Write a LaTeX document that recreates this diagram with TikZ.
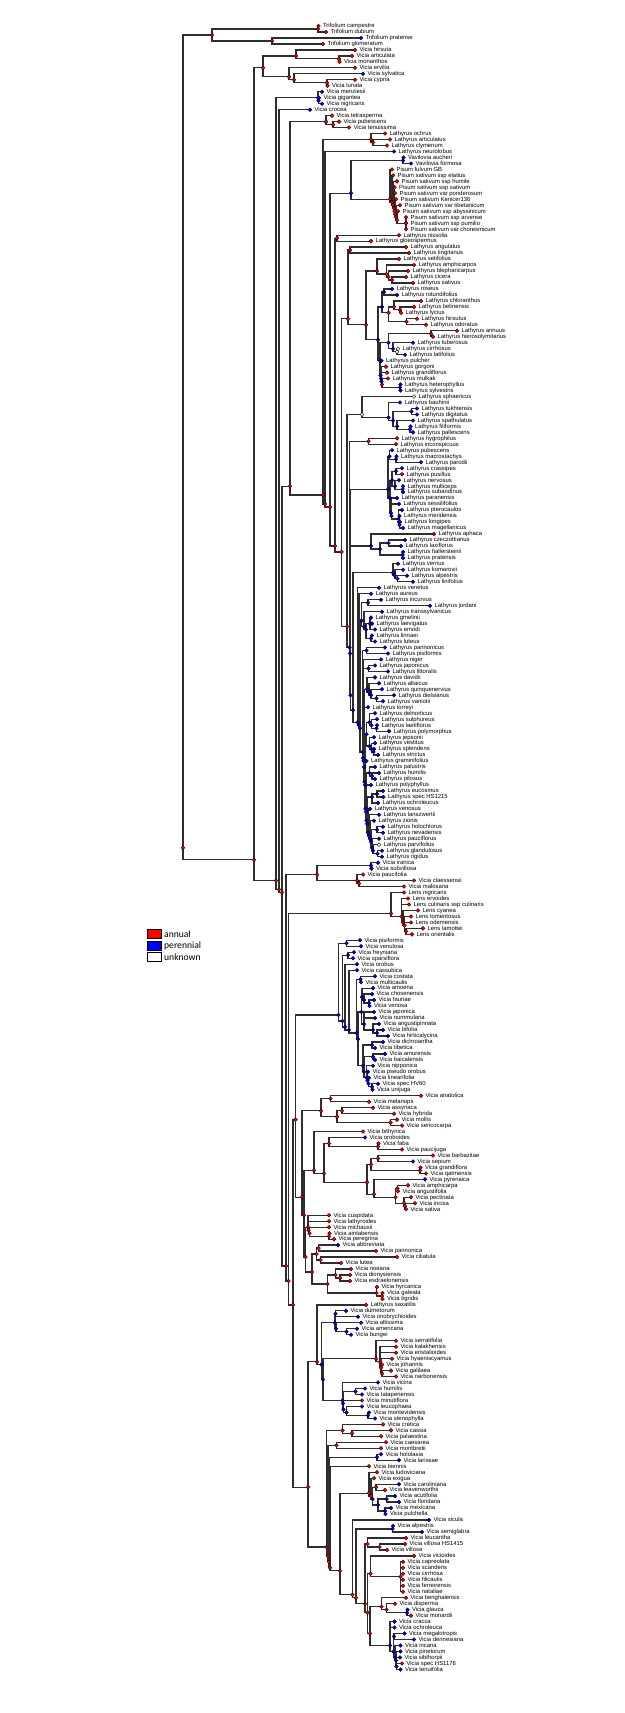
\documentclass[tikz,border=0pt]{standalone}
\usepackage{fontspec}
\setmainfont{Liberation Sans}
\newfontfamily\legfont{Carlito}
\definecolor{cr}{RGB}{255,0,0}
\definecolor{cb}{RGB}{0,0,255}
\definecolor{cw}{RGB}{255,255,255}
\tikzset{
  br/.style={line width=1.25pt,draw=black!82},
  tipdot/.style={circle,draw=black,line width=0.35pt,minimum size=3.8pt,inner sep=0pt},
  lab/.style={anchor=west,inner sep=0pt,font=\fontsize{5.9}{7}\selectfont,text height=4.2pt,text depth=0.5pt},
  legbox/.style={draw=black,line width=0.8pt,minimum width=14pt,minimum height=9pt,inner sep=0pt},
  legtxt/.style={anchor=west,inner sep=0pt,font=\legfont\fontsize{9.6}{11}\selectfont}
}
% pass 1: coordinates and branches
\newcommand\ndA[6]{%
  \coordinate (#1) at (#3,{26+((#4+#5)/2-1)*5.976});
  \draw[br] (#2) |- (#1);}
\newcommand\tpA[5]{%
  \coordinate (t#3) at (#2,{26+(#3-1)*5.976});
  \draw[br] (#1) |- (t#3);}
% pass 2: node dots and tip labels
\newcommand\ndB[6]{\node[tipdot,fill=#6] (n#1) at (#1) {};}
\newcommand\tpB[5]{%
  \node[tipdot,fill=#4] (d#3) at (t#3) {};
  \node[lab] (l#3) at ([xshift=2.3pt]d#3.east) {#5};}
\newcommand\treedata{%
\nd{T0}{R0}{212}{1}{4}{cr}
\nd{T1}{T0}{318}{1}{2}{cr}
\tp{T1}{318.5}{1}{cr}{Trifolium campestre}
\tp{T1}{326}{2}{cr}{Trifolium dubium}
\nd{T2}{T0}{272}{3}{4}{cr}
\tp{T2}{361}{3}{cb}{Trifolium pratense}
\tp{T2}{323}{4}{cr}{Trifolium glomeratum}
\nd{A}{R0}{254}{5}{276}{cr}
\nd{V1}{A}{263}{5}{11}{cr}
\nd{V2}{V1}{296}{5}{7}{cr}
\tp{V2}{355}{5}{cr}{Vicia hirsuta}
\nd{V2a}{V2}{339}{6}{7}{cr}
\tp{V2a}{352}{6}{cr}{Vicia articulata}
\tp{V2a}{339.5}{7}{cr}{Vicia monanthos}
\nd{V3}{V1}{289}{8}{11}{cr}
\tp{V3}{355}{8}{cr}{Vicia ervilia}
\nd{V3a}{V3}{294}{9}{11}{cr}
\tp{V3a}{363}{9}{cb}{Vicia sylvatica}
\nd{V3b}{V3a}{327}{10}{11}{cr}
\tp{V3b}{355}{10}{cr}{Vicia cypria}
\tp{V3b}{327.5}{11}{cr}{Vicia lunata}
\nd{B}{A}{276}{12}{276}{cr}
\nd{C1}{B}{318}{12}{14}{cb}
\tp{C1}{322}{12}{cb}{Vicia menziesii}
\nd{C1a}{C1}{318.5}{13}{14}{cb}
\tp{C1a}{319}{13}{cb}{Vicia gigantea}
\tp{C1a}{322}{14}{cb}{Vicia nigricans}
\nd{B2}{B}{279}{15}{276}{cr}
\tp{B2}{310}{15}{cb}{Vicia crocea}
\nd{B3}{B2}{282}{16}{276}{cr}
\nd{E}{B3}{290}{16}{140}{cr}
\nd{D}{E}{326}{16}{18}{cr}
\tp{D}{332}{16}{cr}{Vicia tetrasperma}
\nd{Da}{D}{333}{17}{18}{cr}
\tp{Da}{339}{17}{cr}{Vicia pubescens}
\tp{Da}{349}{18}{cr}{Vicia tenuissima}
\nd{F}{E}{323}{19}{140}{cr}
\nd{Fa}{F}{371}{19}{21}{cr}
\tp{Fa}{385}{19}{cr}{Lathyrus ochrus}
\nd{Fb}{Fa}{373}{20}{21}{cr}
\tp{Fb}{390}{20}{cr}{Lathyrus articulatus}
\tp{Fb}{387}{21}{cr}{Lathyrus clymenum}
\nd{F2}{F}{325}{22}{140}{cr}
\tp{F2}{394}{22}{cb}{Lathyrus neurolobus}
\nd{F3}{F2}{330}{23}{140}{cr}
\nd{PV}{F3}{351}{23}{35}{cb}
\nd{Vv}{PV}{403}{23}{24}{cb}
\tp{Vv}{403.5}{23}{cb}{Vavilovia aucheri}
\tp{Vv}{411}{24}{cb}{Vavilovia formosa}
\nd{Pi}{PV}{390}{25}{35}{cr}
\tp{Pi}{392}{25}{cr}{Pisum fulvum GB}
\nd{Pi2}{Pi}{392}{26}{35}{cr}
\tp{Pi2}{393}{26}{cr}{Pisum sativum ssp elatius}
\nd{Pi3}{Pi2}{393}{27}{35}{cr}
\tp{Pi3}{397}{27}{cr}{Pisum sativum ssp humile}
\nd{Pi4}{Pi3}{394}{28}{35}{cr}
\tp{Pi4}{394.5}{28}{cr}{Pisum sativum ssp sativum}
\nd{Pi5}{Pi4}{394.5}{29}{35}{cr}
\tp{Pi5}{395}{29}{cr}{Pisum sativum var ponderosum}
\nd{Pi6}{Pi5}{395}{30}{35}{cr}
\tp{Pi6}{396}{30}{cr}{Pisum sativum Kenicer136}
\nd{Pi7}{Pi6}{396}{31}{35}{cr}
\tp{Pi7}{400}{31}{cr}{Pisum sativum var tibetanicum}
\nd{Pi8}{Pi7}{397}{32}{35}{cr}
\tp{Pi8}{398}{32}{cr}{Pisum sativum ssp abyssinicum}
\nd{Pi9}{Pi8}{406}{33}{35}{cr}
\tp{Pi9}{406}{33}{cr}{Pisum sativum ssp arvense}
\tp{Pi9}{406}{34}{cr}{Pisum sativum ssp pumilio}
\tp{Pi9}{406}{35}{cr}{Pisum sativum var choresmicum}
\nd{F4}{F3}{335}{36}{140}{cr}
\nd{Ni}{F4}{337}{36}{37}{cr}
\tp{Ni}{399}{36}{cr}{Lathyrus nissolia}
\tp{Ni}{371}{37}{cr}{Lathyrus gloeospermus}
\nd{F5}{F4}{341.5}{38}{140}{cr}
\nd{G1}{F5}{348}{38}{62}{cr}
\nd{Ga}{G1}{350}{38}{39}{cr}
\tp{Ga}{406}{38}{cr}{Lathyrus angulatus}
\tp{Ga}{409}{39}{cr}{Lathyrus tingitanus}
\nd{G2}{G1}{366}{40}{62}{cr}
\nd{G3}{G2}{377}{40}{44}{cr}
\tp{G3}{399}{40}{cr}{Lathyrus setifolius}
\nd{G3a}{G3}{386.5}{41}{44}{cr}
\tp{G3a}{414}{41}{cr}{Lathyrus amphicarpos}
\nd{G3b}{G3a}{388.5}{42}{44}{cr}
\tp{G3b}{408}{42}{cr}{Lathyrus blepharicarpus}
\nd{G3c}{G3b}{392}{43}{44}{cr}
\tp{G3c}{406}{43}{cr}{Lathyrus cicera}
\tp{G3c}{413}{44}{cr}{Lathyrus sativus}
\nd{G4}{G2}{378}{45}{62}{cb}
\nd{G5}{G4}{382}{45}{51}{cb}
\nd{G5a}{G5}{384}{45}{46}{cb}
\tp{G5a}{392}{45}{cb}{Lathyrus roseus}
\tp{G5a}{397}{46}{cb}{Lathyrus rotundifolius}
\nd{G5b}{G5}{388.5}{47}{51}{cr}
\nd{G5c}{G5b}{394}{47}{49}{cr}
\tp{G5c}{421}{47}{cr}{Lathyrus chloranthus}
\nd{G5d}{G5c}{400}{48}{49}{cr}
\tp{G5d}{414}{48}{cr}{Lathyrus belinensis}
\tp{G5d}{401}{49}{cr}{Lathyrus lycius}
\nd{G5e}{G5b}{406.5}{50}{51}{cr}
\tp{G5e}{417}{50}{cr}{Lathyrus hirsutus}
\tp{G5e}{426}{51}{cr}{Lathyrus odoratus}
\nd{G6}{G4}{380}{52}{62}{cb}
\nd{G7}{G6}{388.5}{52}{56}{cb}
\nd{G6a}{G7}{431}{52}{53}{cr}
\tp{G6a}{457}{52}{cr}{Lathyrus annuus}
\tp{G6a}{433}{53}{cr}{Lathyrus hierosolymitanus}
\nd{G7b}{G7}{393}{54}{56}{cb}
\tp{G7b}{413}{54}{cb}{Lathyrus tuberosus}
\nd{G7c}{G7b}{397}{55}{56}{cw}
\tp{G7c}{398}{55}{cw}{Lathyrus cirrhosus}
\tp{G7c}{405}{56}{cb}{Lathyrus latifolius}
\nd{G8}{G6}{380.5}{57}{62}{cb}
\tp{G8}{381.5}{57}{cb}{Lathyrus pulcher}
\nd{G8a}{G8}{381}{58}{62}{cb}
\tp{G8a}{386}{58}{cr}{Lathyrus gorgoni}
\nd{G8b}{G8a}{381.5}{59}{62}{cb}
\tp{G8b}{387}{59}{cr}{Lathyrus grandiflorus}
\nd{G8c}{G8b}{382}{60}{62}{cr}
\tp{G8c}{388}{60}{cr}{Lathyrus mulkak}
\nd{G8d}{G8c}{400}{61}{62}{cb}
\tp{G8d}{400.5}{61}{cb}{Lathyrus heterophyllus}
\tp{G8d}{400.5}{62}{cb}{Lathyrus sylvestris}
\nd{F6}{F5}{347}{63}{140}{cr}
\nd{H1}{F6}{362}{63}{69}{cw}
\tp{H1}{414}{63}{cw}{Lathyrus sphaericus}
\nd{H1a}{H1}{388.5}{64}{69}{cb}
\tp{H1a}{400}{64}{cb}{Lathyrus bauhinii}
\nd{H1b}{H1a}{393}{65}{69}{cb}
\nd{H1c}{H1b}{411.5}{65}{66}{cb}
\tp{H1c}{417}{65}{cb}{Lathyrus tukhtensis}
\tp{H1c}{417}{66}{cb}{Lathyrus digitatus}
\nd{H1d}{H1b}{397}{67}{69}{cb}
\tp{H1d}{413}{67}{cb}{Lathyrus spathulatus}
\nd{H1e}{H1d}{410}{68}{69}{cb}
\tp{H1e}{410.5}{68}{cb}{Lathyrus filiformis}
\tp{H1e}{413}{69}{cb}{Lathyrus pallescens}
\nd{F7}{F6}{349.5}{70}{140}{cb}
\nd{H2a}{F7}{368.5}{70}{71}{cr}
\tp{H2a}{397}{70}{cr}{Lathyrus hygrophilus}
\tp{H2a}{396}{71}{cr}{Lathyrus inconspicuus}
\nd{F8}{F7}{350}{72}{140}{cb}
\nd{H3}{F8}{388}{72}{85}{cb}
\nd{H3a}{H3}{389.5}{72}{74}{cb}
\tp{H3a}{392}{72}{cb}{Lathyrus pubescens}
\nd{H3a1}{H3a}{396}{73}{74}{cb}
\tp{H3a1}{396.5}{73}{cb}{Lathyrus macrostachys}
\tp{H3a1}{421}{74}{cb}{Lathyrus parodii}
\nd{H3b}{H3}{390}{75}{85}{cb}
\nd{H3c}{H3b}{392}{75}{79}{cb}
\nd{H3c1}{H3c}{396}{75}{76}{cb}
\tp{H3c1}{402}{75}{cb}{Lathyrus crassipes}
\tp{H3c1}{402}{76}{cr}{Lathyrus pusillus}
\nd{H3c2}{H3c}{395}{77}{79}{cb}
\tp{H3c2}{399}{77}{cb}{Lathyrus nervosus}
\nd{H3c3}{H3c2}{402.5}{78}{79}{cb}
\tp{H3c3}{403}{78}{cb}{Lathyrus multiceps}
\tp{H3c3}{403}{79}{cb}{Lathyrus subandinus}
\nd{H3d}{H3b}{391}{80}{85}{cb}
\tp{H3d}{397}{80}{cb}{Lathyrus paranensis}
\nd{H3d1}{H3d}{391.5}{81}{85}{cb}
\tp{H3d1}{399}{81}{cb}{Lathyrus sessilifolius}
\nd{H3d2}{H3d1}{398.5}{82}{85}{cb}
\tp{H3d2}{402}{82}{cb}{Lathyrus pterocaulos}
\nd{H3d3}{H3d2}{399}{83}{85}{cb}
\tp{H3d3}{399.5}{83}{cb}{Lathyrus meridensis}
\nd{H3d4}{H3d3}{399.5}{84}{85}{cb}
\tp{H3d4}{400}{84}{cb}{Lathyrus longipes}
\tp{H3d4}{403}{85}{cb}{Lathyrus magellanicus}
\nd{F9}{F8}{350.5}{86}{140}{cb}
\nd{H4}{F9}{371}{86}{90}{cb}
\tp{H4}{434}{86}{cr}{Lathyrus aphaca}
\nd{H4a}{H4}{380}{87}{90}{cb}
\nd{H4b}{H4a}{388.5}{87}{88}{cb}
\tp{H4b}{405}{87}{cb}{Lathyrus czeczottianus}
\tp{H4b}{401}{88}{cb}{Lathyrus laxiflorus}
\nd{H4c}{H4a}{402.5}{89}{90}{cb}
\tp{H4c}{403}{89}{cb}{Lathyrus hallersteinii}
\tp{H4c}{403}{90}{cb}{Lathyrus pratensis}
\nd{F10}{F9}{353}{91}{140}{cb}
\nd{H5}{F10}{393}{91}{94}{cb}
\tp{H5}{398}{91}{cb}{Lathyrus vernus}
\nd{H5a}{H5}{395}{92}{94}{cb}
\tp{H5a}{403}{92}{cb}{Lathyrus komarovii}
\nd{H5b}{H5a}{397.5}{93}{94}{cb}
\tp{H5b}{407}{93}{cb}{Lathyrus alpestris}
\tp{H5b}{413}{94}{cb}{Lathyrus linifolius}
\nd{F11}{F10}{357.5}{95}{140}{cb}
\tp{F11}{379}{95}{cb}{Lathyrus venetus}
\nd{F12}{F11}{359}{96}{140}{cb}
\tp{F12}{371}{96}{cb}{Lathyrus aureus}
\nd{F13}{F12}{360}{97}{140}{cb}
\nd{L1}{F13}{361.5}{97}{104}{cb}
\nd{L1a}{L1}{368}{97}{98}{cb}
\tp{L1a}{381}{97}{cb}{Lathyrus incurvus}
\tp{L1a}{430}{98}{cb}{Lathyrus jordani}
\nd{L1b}{L1}{364}{99}{104}{cb}
\tp{L1b}{382}{99}{cb}{Lathyrus transsylvanicus}
\nd{L1c}{L1b}{366}{100}{104}{cb}
\nd{L1d}{L1c}{370}{100}{102}{cb}
\tp{L1d}{371}{100}{cb}{Lathyrus gmelinii}
\tp{L1d}{372}{101}{cb}{Lathyrus laevigatus}
\tp{L1d}{375}{102}{cb}{Lathyrus emodi}
\nd{L1e}{L1c}{371}{103}{104}{cb}
\tp{L1e}{372}{103}{cb}{Lathyrus linnaei}
\tp{L1e}{375}{104}{cb}{Lathyrus luteus}
\nd{F14}{F13}{362.5}{105}{140}{cb}
\nd{L2}{F14}{366.5}{105}{106}{cb}
\tp{L2}{385}{105}{cb}{Lathyrus pannonicus}
\tp{L2}{388}{106}{cb}{Lathyrus pisiformis}
\nd{F15}{F14}{363}{107}{140}{cb}
\tp{F15}{381}{107}{cb}{Lathyrus niger}
\nd{F16}{F15}{363.5}{108}{140}{cb}
\nd{L3}{F16}{368.5}{108}{109}{cb}
\tp{L3}{375}{108}{cb}{Lathyrus japonicus}
\tp{L3}{388}{109}{cb}{Lathyrus littoralis}
\nd{F17}{F16}{364}{110}{140}{cb}
\nd{L4}{F17}{367}{110}{114}{cb}
\tp{L4}{375}{110}{cb}{Lathyrus davidii}
\nd{L4a}{L4}{369}{111}{114}{cb}
\tp{L4a}{379}{111}{cb}{Lathyrus altaicus}
\nd{L4b}{L4a}{371}{112}{114}{cb}
\tp{L4b}{382}{112}{cb}{Lathyrus quinquenervius}
\nd{L4c}{L4b}{376.5}{113}{114}{cb}
\tp{L4c}{394}{113}{cb}{Lathyrus dielsianus}
\tp{L4c}{383}{114}{cb}{Lathyrus vaniotii}
\nd{F18}{F17}{364.5}{115}{140}{cb}
\tp{F18}{368}{115}{cb}{Lathyrus torreyi}
\nd{F19}{F18}{365}{116}{140}{cb}
\nd{L5}{F19}{366.5}{116}{123}{cb}
\nd{L5a}{L5}{369.5}{116}{119}{cb}
\tp{L5a}{375}{116}{cb}{Lathyrus delnorticus}
\nd{L5c}{L5a}{371.5}{117}{119}{cb}
\tp{L5c}{377}{117}{cb}{Lathyrus sulphureus}
\nd{L5d}{L5c}{376.5}{118}{119}{cb}
\tp{L5d}{377}{118}{cb}{Lathyrus laetiflorus}
\tp{L5d}{389}{119}{cb}{Lathyrus polymorphus}
\nd{L5b}{L5}{369.5}{120}{123}{cb}
\tp{L5b}{374}{120}{cb}{Lathyrus jepsonii}
\nd{L5e}{L5b}{371.5}{121}{123}{cb}
\tp{L5e}{375}{121}{cb}{Lathyrus vestitus}
\nd{L5f}{L5e}{373.5}{122}{123}{cb}
\tp{L5f}{374}{122}{cb}{Lathyrus splendens}
\tp{L5f}{378}{123}{cb}{Lathyrus strictus}
\nd{F20}{F19}{365.5}{124}{140}{cb}
\tp{F20}{366.5}{124}{cb}{Lathyrus graminifolius}
\nd{F21}{F20}{366}{125}{140}{cb}
\nd{L6}{F21}{369.5}{125}{127}{cb}
\tp{L6}{375}{125}{cb}{Lathyrus palustris}
\nd{L6a}{L6}{372}{126}{127}{cb}
\tp{L6a}{379}{126}{cb}{Lathyrus humilis}
\tp{L6a}{375}{127}{cb}{Lathyrus pilosus}
\nd{F22}{F21}{366.5}{128}{140}{cb}
\tp{F22}{371}{128}{cb}{Lathyrus polyphyllus}
\nd{F23}{F22}{367}{129}{140}{cb}
\nd{L7}{F23}{372}{129}{131}{cb}
\nd{L7a}{L7}{377}{129}{130}{cb}
\tp{L7a}{383}{129}{cb}{Lathyrus eucosmus}
\tp{L7a}{383.5}{130}{cb}{Lathyrus spec HS1215}
\tp{L7}{378}{131}{cb}{Lathyrus ochroleucus}
\nd{F24}{F23}{368}{132}{140}{cb}
\tp{F24}{370}{132}{cb}{Lathyrus venosus}
\nd{F25}{F24}{369}{133}{140}{cb}
\tp{F25}{379}{133}{cb}{Lathyrus lanszwertii}
\nd{F26}{F25}{370}{134}{140}{cb}
\tp{F26}{374}{134}{cb}{Lathyrus zionis}
\nd{F27}{F26}{371}{135}{140}{cb}
\nd{L8}{F27}{377}{135}{136}{cb}
\tp{L8}{383}{135}{cb}{Lathyrus holochlorus}
\tp{L8}{383}{136}{cb}{Lathyrus nevadensis}
\nd{F28}{F27}{372}{137}{140}{cb}
\tp{F28}{379}{137}{cb}{Lathyrus pauciflorus}
\nd{F29}{F28}{373}{138}{140}{cb}
\tp{F29}{379}{138}{cw}{Lathyrus parvifolius}
\nd{L9}{F29}{377.5}{139}{140}{cb}
\tp{L9}{382}{139}{cb}{Lathyrus glandulosus}
\tp{L9}{382}{140}{cb}{Lathyrus rigidus}
\nd{G}{B3}{286}{141}{276}{cr}
\nd{I}{G}{317}{141}{145}{cr}
\nd{Ia}{I}{371}{141}{142}{cb}
\tp{Ia}{378}{141}{cb}{Vicia iranica}
\tp{Ia}{371.5}{142}{cb}{Vicia subvillosa}
\nd{Ib}{I}{357}{143}{145}{cr}
\tp{Ib}{363}{143}{cr}{Vicia paucifolia}
\nd{Ib2}{Ib}{359}{144}{145}{cr}
\tp{Ib2}{414}{144}{cr}{Vicia claessensii}
\tp{Ib2}{404}{145}{cr}{Vicia malosana}
\nd{H}{G}{288.5}{146}{276}{cr}
\nd{L}{H}{391}{146}{153}{cr}
\tp{L}{404}{146}{cr}{Lens nigricans}
\nd{La}{L}{401.5}{147}{153}{cr}
\tp{La}{408}{147}{cr}{Lens ervoides}
\tp{La}{409}{148}{cr}{Lens culinaris ssp culinaris}
\nd{Lb}{La}{403}{149}{153}{cr}
\tp{Lb}{418}{149}{cr}{Lens cyanea}
\nd{Lc}{Lb}{404.5}{150}{153}{cr}
\tp{Lc}{411}{150}{cr}{Lens tomentosus}
\tp{Lc}{411}{151}{cr}{Lens odemensis}
\nd{Ld}{Lc}{406}{152}{153}{cr}
\tp{Ld}{423}{152}{cr}{Lens lamottei}
\tp{Ld}{412}{153}{cr}{Lens orientalis}
\nd{H2}{H}{293}{154}{276}{cr}
\nd{K}{H2}{295.5}{154}{214}{cr}
\nd{J}{K}{338.5}{154}{179}{cb}
\nd{Ja}{J}{346.5}{154}{155}{cb}
\tp{Ja}{360}{154}{cb}{Vicia pisiformis}
\tp{Ja}{361}{155}{cb}{Vicia venulosa}
\nd{J2}{J}{342.5}{156}{179}{cb}
\nd{Jb}{J2}{348}{156}{157}{cb}
\tp{Jb}{354}{156}{cb}{Vicia freyniana}
\tp{Jb}{353}{157}{cb}{Vicia sparsiflora}
\nd{J3}{J2}{345}{158}{179}{cb}
\tp{J3}{357}{158}{cb}{Vicia orobus}
\nd{J4}{J3}{349}{159}{179}{cb}
\tp{J4}{357}{159}{cb}{Vicia cassubica}
\nd{J5}{J4}{356.5}{160}{179}{cb}
\nd{Jc}{J5}{360.5}{160}{161}{cb}
\tp{Jc}{375}{160}{cb}{Vicia costata}
\tp{Jc}{361}{161}{cb}{Vicia multicaulis}
\nd{J6}{J5}{358}{162}{179}{cb}
\nd{J7}{J6}{361.5}{162}{170}{cb}
\nd{J7a}{J7}{362}{162}{165}{cb}
\tp{J7a}{373}{162}{cb}{Vicia amoena}
\nd{J7c}{J7a}{364}{163}{165}{cb}
\tp{J7c}{372}{163}{cb}{Vicia chosenensis}
\nd{J7d}{J7c}{369}{164}{165}{cb}
\tp{J7d}{374}{164}{cb}{Vicia fauriae}
\tp{J7d}{369.5}{165}{cb}{Vicia venosa}
\nd{J7b}{J7}{364}{166}{170}{cb}
\tp{J7b}{374}{166}{cb}{Vicia japonica}
\tp{J7b}{375}{167}{cb}{Vicia nummularia}
\nd{J7e}{J7b}{373}{168}{170}{cb}
\tp{J7e}{379}{168}{cb}{Vicia angustipinnata}
\nd{J7f}{J7e}{377}{169}{170}{cb}
\tp{J7f}{383}{169}{cb}{Vicia bifolia}
\tp{J7f}{388}{170}{cb}{Vicia hirticalycina}
\nd{J8}{J6}{363}{171}{179}{cb}
\nd{J8a}{J8}{372}{171}{172}{cb}
\tp{J8a}{383}{171}{cb}{Vicia dichroantha}
\tp{J8a}{375}{172}{cb}{Vicia tibetica}
\nd{J8b}{J8}{364}{173}{179}{cb}
\nd{J8c}{J8b}{373}{173}{174}{cb}
\tp{J8c}{385}{173}{cb}{Vicia amurensis}
\tp{J8c}{375}{174}{cb}{Vicia baicalensis}
\nd{J8d}{J8b}{366.5}{175}{179}{cb}
\tp{J8d}{373}{175}{cb}{Vicia nipponica}
\nd{J8e}{J8d}{367.5}{176}{179}{cb}
\tp{J8e}{368}{176}{cb}{Vicia pseudo orobus}
\nd{J8f}{J8e}{368.5}{177}{179}{cb}
\tp{J8f}{369}{177}{cb}{Vicia linearifolia}
\nd{J8g}{J8f}{372}{178}{179}{cb}
\tp{J8g}{378}{178}{cb}{Vicia spec HV60}
\tp{J8g}{372.5}{179}{cb}{Vicia unijuga}
\nd{K2}{K}{302}{180}{214}{cr}
\nd{M1}{K2}{321}{180}{185}{cr}
\nd{M1a}{M1}{330.5}{180}{181}{cr}
\tp{M1a}{421}{180}{cr}{Vicia anatolica}
\tp{M1a}{369}{181}{cr}{Vicia melanops}
\nd{M1b}{M1}{337}{182}{185}{cr}
\nd{M1c}{M1b}{342}{182}{183}{cr}
\tp{M1c}{373}{182}{cr}{Vicia assyriaca}
\tp{M1c}{394}{183}{cr}{Vicia hybrida}
\nd{M1d}{M1b}{390.5}{184}{185}{cr}
\tp{M1d}{397}{184}{cr}{Vicia mollis}
\tp{M1d}{402}{185}{cr}{Vicia sericocarpa}
\nd{N}{K2}{304}{186}{214}{cr}
\nd{O}{N}{314}{186}{199}{cr}
\tp{O}{363}{186}{cr}{Vicia bithynica}
\nd{O2}{O}{324}{187}{199}{cr}
\nd{O3}{O2}{329}{187}{189}{cr}
\tp{O3}{365}{187}{cb}{Vicia oroboides}
\nd{O3a}{O3}{378}{188}{189}{cr}
\tp{O3a}{378.5}{188}{cr}{Vicia faba}
\tp{O3a}{402}{189}{cr}{Vicia paucijuga}
\nd{O4}{O2}{367}{190}{199}{cr}
\nd{O5}{O4}{371}{190}{193}{cr}
\nd{O5a}{O5}{378}{190}{191}{cr}
\tp{O5a}{433}{190}{cr}{Vicia barbazitae}
\tp{O5a}{413}{191}{cb}{Vicia sepium}
\nd{O5b}{O5}{420}{192}{193}{cr}
\tp{O5b}{420.5}{192}{cr}{Vicia grandiflora}
\tp{O5b}{426}{193}{cr}{Vicia qatmensis}
\nd{O6}{O4}{374}{194}{199}{cr}
\tp{O6}{425}{194}{cb}{Vicia pyrenaica}
\nd{O6a}{O6}{395.5}{195}{199}{cr}
\nd{O6b}{O6a}{397.5}{195}{196}{cr}
\tp{O6b}{408}{195}{cr}{Vicia amphicarpa}
\tp{O6b}{398}{196}{cr}{Vicia angustifolia}
\nd{O6c}{O6a}{404}{197}{199}{cr}
\tp{O6c}{411}{197}{cr}{Vicia pectinata}
\nd{O6d}{O6c}{405}{198}{199}{cr}
\tp{O6d}{415}{198}{cr}{Vicia incisa}
\tp{O6d}{406}{199}{cr}{Vicia sativa}
\nd{P}{N}{305.5}{200}{214}{cr}
\nd{Q1}{P}{308}{200}{204}{cr}
\tp{Q1}{329}{200}{cr}{Vicia cuspidata}
\nd{Q1a}{Q1}{308.5}{201}{204}{cr}
\tp{Q1a}{329}{201}{cr}{Vicia lathyroides}
\nd{Q1b}{Q1a}{309.5}{202}{204}{cr}
\tp{Q1b}{329}{202}{cr}{Vicia michauxii}
\nd{Q1c}{Q1b}{329}{203}{204}{cr}
\tp{Q1c}{329.5}{203}{cr}{Vicia aintabensis}
\tp{Q1c}{334}{204}{cr}{Vicia peregrina}
\nd{Q2}{P}{312}{205}{214}{cr}
\nd{Q2a}{Q2}{316.5}{205}{208}{cr}
\nd{Q2a1}{Q2a}{318.5}{205}{206}{cr}
\tp{Q2a1}{338}{205}{cb}{Vicia abbreviata}
\tp{Q2a1}{376}{206}{cr}{Vicia pannonica}
\nd{Q2a2}{Q2a}{320.5}{207}{208}{cr}
\tp{Q2a2}{397}{207}{cr}{Vicia ciliatula}
\tp{Q2a2}{341}{208}{cr}{Vicia lutea}
\nd{Q2b}{Q2}{327.5}{209}{214}{cr}
\nd{Q2c}{Q2b}{335.5}{209}{211}{cr}
\tp{Q2c}{351}{209}{cr}{Vicia noeana}
\nd{Q2d}{Q2c}{340}{210}{211}{cr}
\tp{Q2d}{350}{210}{cr}{Vicia dionysiensis}
\tp{Q2d}{350}{211}{cr}{Vicia esdraelonensis}
\nd{Q2e}{Q2b}{376.5}{212}{214}{cr}
\tp{Q2e}{377}{212}{cr}{Vicia hyrcanica}
\nd{Q2f}{Q2e}{382}{213}{214}{cr}
\tp{Q2f}{382.5}{213}{cr}{Vicia galeata}
\tp{Q2f}{382.5}{214}{cr}{Vicia tigridis}
\nd{RR}{H2}{308}{215}{276}{cr}
\nd{S}{RR}{317}{215}{234}{cr}
\tp{S}{366}{215}{cr}{Lathyrus saxatilis}
\nd{S2}{S}{321.5}{216}{234}{cb}
\nd{S3}{S2}{335}{216}{220}{cb}
\nd{S3a}{S3}{335.5}{216}{217}{cb}
\tp{S3a}{346}{216}{cb}{Vicia dumetorum}
\tp{S3a}{358}{217}{cb}{Vicia onobrychioides}
\nd{S3c}{S3}{336}{218}{220}{cb}
\tp{S3c}{361}{218}{cb}{Vicia altissima}
\nd{S3b}{S3c}{346.5}{219}{220}{cb}
\tp{S3b}{357}{219}{cb}{Vicia americana}
\tp{S3b}{351}{220}{cb}{Vicia bungei}
\nd{S4}{S2}{323}{221}{234}{cb}
\nd{S5}{S4}{376}{221}{227}{cr}
\tp{S5}{396}{221}{cr}{Vicia serratifolia}
\nd{S5a}{S5}{380}{222}{227}{cr}
\tp{S5a}{396}{222}{cr}{Vicia kalakhensis}
\tp{S5a}{396}{223}{cr}{Vicia eristalioides}
\nd{S5b}{S5a}{381}{224}{227}{cr}
\tp{S5b}{392}{224}{cr}{Vicia hyaeniscyamus}
\tp{S5b}{382}{225}{cr}{Vicia johannis}
\nd{S5c}{S5b}{382}{226}{227}{cr}
\tp{S5c}{391}{226}{cr}{Vicia galilaea}
\tp{S5c}{396}{227}{cr}{Vicia narbonensis}
\nd{S6}{S4}{342.5}{228}{234}{cb}
\tp{S6}{378}{228}{cb}{Vicia vicina}
\nd{S6b}{S6}{343}{229}{234}{cb}
\nd{S6c}{S6b}{355.5}{229}{230}{cb}
\tp{S6c}{365}{229}{cb}{Vicia humilis}
\tp{S6c}{362}{230}{cb}{Vicia tatapenensis}
\nd{S6d}{S6b}{343.5}{231}{234}{cb}
\tp{S6d}{362}{231}{cr}{Vicia minutiflora}
\nd{S6e}{S6d}{346.5}{232}{234}{cb}
\tp{S6e}{362}{232}{cb}{Vicia leucophaea}
\nd{S6f}{S6e}{368}{233}{234}{cb}
\tp{S6f}{369}{233}{cb}{Vicia montevidensis}
\tp{S6f}{375}{234}{cb}{Vicia stenophylla}
\nd{TT}{RR}{326.5}{235}{276}{cr}
\nd{U}{TT}{342.5}{235}{237}{cr}
\tp{U}{383}{235}{cr}{Vicia cretica}
\nd{Ua}{U}{352}{236}{237}{cr}
\tp{Ua}{391}{236}{cr}{Vicia cassia}
\tp{Ua}{381}{237}{cr}{Vicia palaestina}
\nd{TT1}{TT}{328}{238}{276}{cr}
\nd{Vn}{TT1}{336.5}{238}{239}{cr}
\tp{Vn}{386}{238}{cr}{Vicia caesarea}
\tp{Vn}{381}{239}{cr}{Vicia montbretii}
\nd{TT2}{TT1}{329}{240}{276}{cr}
\nd{W}{TT2}{377}{240}{241}{cb}
\tp{W}{381}{240}{cb}{Vicia hololasia}
\tp{W}{399}{241}{cb}{Vicia larissae}
\nd{TT3}{TT2}{330}{242}{276}{cr}
\tp{TT3}{369}{242}{cr}{Vicia biennis}
\nd{TT4}{TT3}{340}{243}{276}{cr}
\nd{X1}{TT4}{369}{243}{250}{cr}
\tp{X1}{377}{243}{cr}{Vicia ludoviciana}
\nd{X1a}{X1}{371}{244}{250}{cr}
\tp{X1a}{374}{244}{cr}{Vicia exigua}
\nd{X1b}{X1a}{372.5}{245}{250}{cb}
\nd{X1c}{X1b}{376}{245}{246}{cr}
\tp{X1c}{399}{245}{cb}{Vicia caroliniana}
\tp{X1c}{385}{246}{cr}{Vicia leavenworthii}
\nd{X1d}{X1b}{378}{247}{250}{cb}
\nd{X1e}{X1d}{386.5}{247}{248}{cb}
\tp{X1e}{395}{247}{cb}{Vicia acutifolia}
\tp{X1e}{399}{248}{cb}{Vicia floridana}
\nd{X1f}{X1d}{385}{249}{250}{cb}
\tp{X1f}{391}{249}{cb}{Vicia mexicana}
\tp{X1f}{385.5}{250}{cb}{Vicia pulchella}
\nd{X2}{TT4}{352.5}{251}{276}{cr}
\tp{X2}{429}{251}{cb}{Vicia sicula}
\nd{X3}{X2}{356}{252}{276}{cr}
\nd{Y1}{X3}{392.5}{252}{253}{cb}
\tp{Y1}{393}{252}{cb}{Vicia alpestris}
\tp{Y1}{422}{253}{cb}{Vicia semiglabra}
\nd{X4}{X3}{365}{254}{276}{cr}
\nd{Z1}{X4}{367.5}{254}{256}{cr}
\tp{Z1}{406}{254}{cr}{Vicia leucantha}
\nd{Z1a}{Z1}{379.5}{255}{256}{cr}
\tp{Z1a}{405}{255}{cr}{Vicia villosa HS1415}
\tp{Z1a}{387}{256}{cr}{Vicia villosa}
\nd{X5}{X4}{367.5}{257}{276}{cr}
\nd{Z2}{X5}{370.5}{257}{263}{cr}
\tp{Z2}{414}{257}{cr}{Vicia vicioides}
\nd{Z2a}{Z2}{400.5}{258}{263}{cr}
\tp{Z2a}{403}{258}{cr}{Vicia capreolata}
\tp{Z2a}{403}{259}{cr}{Vicia scandens}
\tp{Z2a}{403}{260}{cr}{Vicia cirrhosa}
\tp{Z2a}{403}{261}{cr}{Vicia filicaulis}
\tp{Z2a}{403}{262}{cr}{Vicia ferreirensis}
\tp{Z2a}{403}{263}{cr}{Vicia nataliae}
\nd{X6}{X5}{370}{264}{276}{cr}
\nd{Z3}{X6}{381.5}{264}{267}{cr}
\tp{Z3}{406}{264}{cr}{Vicia benghalensis}
\nd{Z3a}{Z3}{386.5}{265}{267}{cr}
\tp{Z3a}{395}{265}{cr}{Vicia disperma}
\nd{Z3b}{Z3a}{407}{266}{267}{cb}
\tp{Z3b}{407.5}{266}{cb}{Vicia glauca}
\tp{Z3b}{411}{267}{cr}{Vicia monardii}
\nd{Z4}{X6}{390}{268}{276}{cb}
\tp{Z4}{394.5}{268}{cb}{Vicia cracca}
\tp{Z4}{394.5}{269}{cb}{Vicia ochroleuca}
\nd{Z4b}{Z4}{393.5}{270}{276}{cb}
\nd{Z4b1}{Z4b}{394}{270}{271}{cb}
\tp{Z4b1}{404.5}{270}{cb}{Vicia megalotropis}
\tp{Z4b1}{414}{271}{cb}{Vicia dennesiana}
\nd{Z4c}{Z4b}{395}{272}{276}{cb}
\tp{Z4c}{400.5}{272}{cb}{Vicia incana}
\nd{Z4d}{Z4c}{396}{273}{276}{cb}
\tp{Z4d}{400.5}{273}{cb}{Vicia pinetorum}
\tp{Z4d}{400}{274}{cb}{Vicia sibthorpii}
\nd{Z4e}{Z4d}{396.5}{275}{276}{cb}
\tp{Z4e}{402}{275}{cr}{Vicia spec HS1176}
\tp{Z4e}{400.5}{276}{cb}{Vicia tenuifolia}
}
\begin{document}
\begin{tikzpicture}[x=1pt,y=-1pt]
\useasboundingbox (0,0) rectangle (624,1713);
% pass 1: branches
\coordinate (R0) at (183,{26+((1+276)/2-1)*5.976});
\let\nd\ndA \let\tp\tpA
\treedata
% pass 2: node dots and tip labels
\node[tipdot,fill=cr] (nR0) at (R0) {};
\let\nd\ndB \let\tp\tpB
\treedata
% legend
\node[legbox,fill=cr] (k1) at (154,934) {};
\node[legtxt] (k1t) at (164,934) {annual};
\node[legbox,fill=cb] (k2) at (154,945.5) {};
\node[legtxt] (k2t) at (164,945.5) {perennial};
\node[legbox,fill=cw] (k3) at (154,957) {};
\node[legtxt] (k3t) at (164,957) {unknown};
\end{tikzpicture}
\end{document}
